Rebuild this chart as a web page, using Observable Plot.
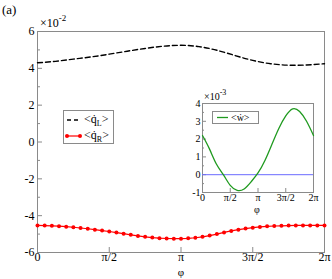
<!DOCTYPE html>
<html><head><meta charset="utf-8">
<script src="https://cdn.jsdelivr.net/npm/d3@7"></script>
<script src="https://cdn.jsdelivr.net/npm/@observablehq/plot@0.6"></script>
<style>
body{margin:0;background:#fff;}
#wrap{position:relative;width:332px;height:279px;overflow:hidden;}
#main{position:absolute;left:0;top:0;width:332px;height:279px;}
#inset{position:absolute;left:180px;top:88px;width:150px;height:128px;}
#wrap svg{display:block;max-width:none;}
#wrap svg, #wrap svg text, #wrap svg tspan{font-family:"Liberation Serif","Times New Roman",serif !important;}
</style></head>
<body><div id="wrap"><div id="main"></div><div id="inset"></div></div>
<script>
const PI = Math.PI;
// main chart: phase phi, <qdot_L> and <qdot_R> in units of 1e-2
const phiL = [0, PI/8, 2*PI/8, 3*PI/8, 4*PI/8, 5*PI/8, 6*PI/8, 7*PI/8, PI, 9*PI/8, 10*PI/8, 11*PI/8, 12*PI/8, 13*PI/8, 14*PI/8, 15*PI/8, 2*PI];
const qL = [4.30, 4.38, 4.50, 4.62, 4.77, 4.93, 5.08, 5.20, 5.25, 5.18, 4.98, 4.70, 4.43, 4.25, 4.17, 4.18, 4.25];
const phiR = d3.range(41).map(k => k * PI / 20);
const qR = [-4.53,-4.54,-4.55,-4.57,-4.60,-4.63,-4.67,-4.71,-4.76,-4.81,-4.86,-4.92,-4.98,-5.04,-5.10,-5.15,-5.19,-5.22,-5.24,-5.25,-5.25,-5.23,-5.20,-5.15,-5.08,-5.00,-4.91,-4.83,-4.76,-4.70,-4.65,-4.61,-4.58,-4.56,-4.55,-4.54,-4.53,-4.53,-4.53,-4.53,-4.53];
// inset: <wdot> in units of 1e-3
const phiW = phiL;
const wV = [2.2, 1.45, 0.6, 0.0, -0.6, -0.88, -0.8, -0.4, 0.1, 0.8, 1.7, 2.6, 3.3, 3.7, 3.55, 3.0, 2.2];
const zeroLine = [0];
// ticks
const xTicks = [0, PI/2, PI, 3*PI/2, 2*PI];
const xTickLabels = ["0", "π/2", "π", "3π/2", "2π"];
const yTicksMain = [-6, -4, -2, 0, 2, 4, 6];
const yMinorMain = [-5, -3, -1, 1, 3, 5];
const yTicksInset = [-1, 0, 1, 2, 3, 4];
const yMinorInset = [-0.5, 0.5, 1.5, 2.5, 3.5];

const fmtX = d => xTickLabels[xTicks.findIndex(t => Math.abs(t - d) < 1e-9)];
const gray = "#8a8a8a";
const FONT = "'Liberation Serif', 'Times New Roman', serif";

const lData = phiL.map((p, i) => ({p, v: qL[i]}));
const rData = phiR.map((p, i) => ({p, v: qR[i]}));
const wData = phiW.map((p, i) => ({p, v: wV[i]}));

const main = Plot.plot({
  width: 332, height: 279,
  marginTop: 31, marginLeft: 37, marginRight: 8, marginBottom: 27,
  style: `font-family: ${FONT}; font-size: 12px; background: transparent; color: #000;`,
  x: {domain: [0, 2*PI]},
  y: {domain: [-6, 6]},
  marks: [
    Plot.frame({stroke: gray}),
    Plot.axisX(xTicks.slice(1, 4), {tickSize: 5, dy: -5, stroke: gray, text: null, label: null}),
    Plot.axisX(xTicks, {tickSize: 0, tickPadding: 0, tickFormat: fmtX, label: null, fontSize: 12, fill: "#000"}),
    Plot.axisY(yTicksMain.slice(1, 6), {tickSize: 5, dx: 5, stroke: gray, text: null, label: null}),
    Plot.axisY(yMinorMain, {tickSize: 3, dx: 3, stroke: gray, text: null, label: null}),
    Plot.axisY(yTicksMain, {tickSize: 0, tickPadding: 3, label: null, fontSize: 12, fill: "#000", tickFormat: d => d}),
    Plot.line(lData, {x: "p", y: "v", stroke: "#000", strokeWidth: 1.4, strokeDasharray: "5,3", curve: "natural"}),
    Plot.line(rData, {x: "p", y: "v", stroke: "#ff0000", strokeWidth: 1.2}),
    Plot.dot(rData, {x: "p", y: "v", r: 2, fill: "#ff0000", stroke: "none"})
  ]
});
document.getElementById("main").append(main);

const inset = Plot.plot({
  width: 150, height: 128,
  marginTop: 15, marginLeft: 22, marginRight: 17, marginBottom: 24,
  style: `font-family: ${FONT}; font-size: 10px; background: transparent; color: #000;`,
  x: {domain: [0, 2*PI]},
  y: {domain: [-1, 4]},
  marks: [
    Plot.frame({fill: "#fff", stroke: gray}),
    Plot.axisX(xTicks.slice(1, 4), {tickSize: 4, dy: -4, stroke: gray, text: null, label: null}),
    Plot.axisX(xTicks, {tickSize: 0, tickPadding: 1, tickFormat: fmtX, label: null, fontSize: 10, fill: "#000"}),
    Plot.axisY(yTicksInset.slice(1, 5), {tickSize: 4, dx: 4, stroke: gray, text: null, label: null}),
    Plot.axisY(yMinorInset, {tickSize: 2, dx: 2, stroke: gray, text: null, label: null}),
    Plot.axisY(yTicksInset, {tickSize: 0, tickPadding: 2, label: null, fontSize: 10, fill: "#000", tickFormat: d => d}),
    Plot.ruleY(zeroLine, {stroke: "#6a6aff", strokeWidth: 1}),
    Plot.line(wData, {x: "p", y: "v", stroke: "#1f9a1f", strokeWidth: 1.3, curve: "natural"})
  ]
});
document.getElementById("inset").append(inset);

// annotations & legends
const sm = d3.select(main);
const ann = sm.append("g").style("font-family", FONT).attr("fill", "#000").attr("text-anchor", "start");
ann.append("text").attr("x", 2).attr("y", 14).attr("font-size", 13).text("(a)");
const e1 = ann.append("text").attr("x", 40).attr("y", 27).attr("font-size", 12);
e1.append("tspan").text("×10");
e1.append("tspan").attr("dy", -6).attr("font-size", 9).text("-2");
ann.append("text").attr("x", 181).attr("y", 276).attr("text-anchor", "middle").attr("font-size", 11).text("φ");
// main legend
const lg = sm.append("g").style("font-family", FONT).attr("text-anchor", "start");
lg.append("rect").attr("x", 63.5).attr("y", 110.5).attr("width", 50).attr("height", 33).attr("fill", "#fff").attr("stroke", gray);
lg.append("line").attr("x1", 67).attr("x2", 80).attr("y1", 120).attr("y2", 120).attr("stroke", "#000").attr("stroke-width", 1.4).attr("stroke-dasharray", "4,3");
lg.append("line").attr("x1", 67).attr("x2", 80).attr("y1", 136).attr("y2", 136).attr("stroke", "#ff0000").attr("stroke-width", 1.2);
lg.selectAll("circle").data([67, 80]).join("circle").attr("cx", d => d).attr("cy", 136).attr("r", 2).attr("fill", "#ff0000");
const t1 = lg.append("text").attr("x", 84).attr("y", 123).attr("font-size", 12);
t1.append("tspan").text("<q\u0307");
t1.append("tspan").attr("font-size", 8).attr("dy", 3).text("L");
t1.append("tspan").attr("dy", -3).text(">");
const t2 = lg.append("text").attr("x", 84).attr("y", 139).attr("font-size", 12);
t2.append("tspan").text("<q\u0307");
t2.append("tspan").attr("font-size", 8).attr("dy", 3).text("R");
t2.append("tspan").attr("dy", -3).text(">");

const si = d3.select(inset);
const ai = si.append("g").style("font-family", FONT).attr("fill", "#000").attr("text-anchor", "start");
const e2 = ai.append("text").attr("x", 24).attr("y", 12).attr("font-size", 10);
e2.append("tspan").text("×10");
e2.append("tspan").attr("dy", -5).attr("font-size", 8).text("-3");
ai.append("text").attr("x", 77).attr("y", 125).attr("text-anchor", "middle").attr("font-size", 10).text("φ");
ai.append("rect").attr("x", 32.5).attr("y", 23.5).attr("width", 46).attr("height", 12).attr("fill", "#fff").attr("stroke", gray);
ai.append("line").attr("x1", 37).attr("x2", 48).attr("y1", 29.5).attr("y2", 29.5).attr("stroke", "#1f9a1f").attr("stroke-width", 1.3);
ai.append("text").attr("x", 51).attr("y", 33).attr("font-size", 10).text("<w\u0307>");
</script></body></html>
